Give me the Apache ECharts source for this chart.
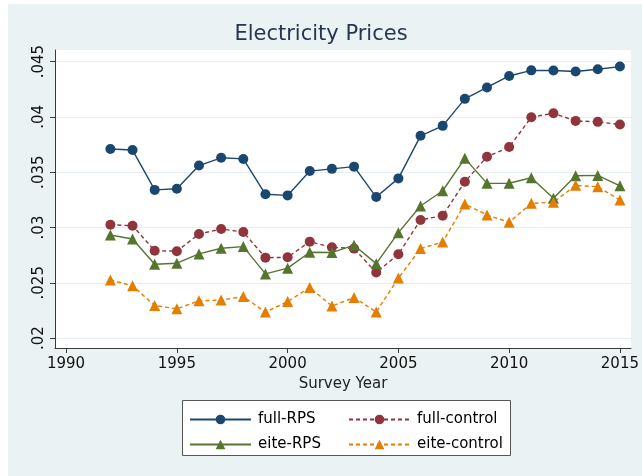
<!DOCTYPE html>
<html>
<head>
<meta charset="utf-8">
<script src="https://cdn.jsdelivr.net/npm/echarts@6/dist/echarts.min.js"></script>
<style>
  html, body { margin: 0; padding: 0; background: #fff; }
  #chart { width: 642px; height: 476px; }
</style>
</head>
<body>
<div id="chart"></div>
<script>
// data
const years = [1992, 1993, 1994, 1995, 1996, 1997, 1998, 1999, 2000, 2001, 2002, 2003,
  2004, 2005, 2006, 2007, 2008, 2009, 2010, 2011, 2012, 2013, 2014, 2015];
const fullRPS = [0.0371, 0.0370, 0.0334, 0.0335, 0.0356, 0.0363, 0.0362, 0.0330, 0.0329, 0.0351, 0.0353, 0.0355,
  0.03275, 0.03444, 0.03829, 0.03919, 0.04163, 0.04266, 0.0437, 0.04421, 0.0442, 0.0441, 0.04431, 0.04455];
const fullControl = [0.03025, 0.03016, 0.0279, 0.02785, 0.02941, 0.02986, 0.02959, 0.02727, 0.0273, 0.02872, 0.02821, 0.02809,
  0.02592, 0.02758, 0.03068, 0.03107, 0.03413, 0.03639, 0.03727, 0.03997, 0.04033, 0.03964, 0.03955, 0.03931];
const eiteRPS = [0.02932, 0.02896, 0.02668, 0.02677, 0.02761, 0.02812, 0.02827, 0.0258, 0.02632, 0.02776, 0.02773, 0.0284,
  0.02673, 0.02953, 0.03194, 0.03332, 0.03625, 0.03399, 0.034, 0.0345, 0.03264, 0.03468, 0.03471, 0.03377];
const eiteControl = [0.02526, 0.02472, 0.02294, 0.02264, 0.02337, 0.02343, 0.02375, 0.02235, 0.0233, 0.02457, 0.02289, 0.02367,
  0.02235, 0.02542, 0.02809, 0.02869, 0.03212, 0.03113, 0.03047, 0.03218, 0.03228, 0.03381, 0.03368, 0.03248];
const xTicks = [1990, 1995, 2000, 2005, 2010, 2015];
const yTicks = [0.02, 0.025, 0.03, 0.035, 0.04, 0.045];

const font = 'DejaVu Sans';
const axisColor = '#3a3a3a';

function pairs(vals) {
  return years.map((y, i) => [y, vals[i]]);
}

function lineSeries(name, vals, color, symbol, dashed) {
  return {
    name: name,
    type: 'line',
    data: pairs(vals),
    symbol: symbol,
    symbolSize: symbol === 'circle' ? 10 : 11,
    itemStyle: { color: color },
    lineStyle: { color: color, width: 1.4, type: dashed ? [4, 3] : 'solid' },
    emphasis: { disabled: true },
    animation: false
  };
}

const chart = echarts.init(document.getElementById('chart'), null, { renderer: 'canvas' });

const option = {
  backgroundColor: '#eaf2f3',
  animation: false,
  title: {
    text: 'Electricity Prices',
    left: 'center',
    top: 19,
    textStyle: { fontFamily: font, fontSize: 21, fontWeight: 'normal', color: '#27364f' }
  },
  graphic: [
    { type: 'rect', shape: { x: 0, y: 0, width: 8, height: 476 }, style: { fill: '#fff' } },
    { type: 'rect', shape: { x: 0, y: 0, width: 642, height: 4 }, style: { fill: '#fff' } },
    { type: 'rect', shape: { x: 182.5, y: 400.5, width: 328, height: 55 }, style: { fill: '#fff', stroke: '#555', lineWidth: 1 } }
  ],
  grid: {
    left: 55, right: 4, top: 50, bottom: 128,
    show: true, backgroundColor: '#fff', borderWidth: 0
  },
  legend: [
    {
      data: ['full-RPS', 'eite-RPS'],
      orient: 'vertical',
      left: 189, top: 412,
      padding: 0,
      itemWidth: 61, itemHeight: 12, itemGap: 10,
      textStyle: { fontFamily: font, fontSize: 15, color: '#000', padding: [0, 0, 0, 2] },
      selectedMode: false
    },
    {
      data: ['full-control', 'eite-control'],
      orient: 'vertical',
      left: 348, top: 412,
      padding: 0,
      itemWidth: 61, itemHeight: 12, itemGap: 10,
      textStyle: { fontFamily: font, fontSize: 15, color: '#000', padding: [0, 0, 0, 2] },
      selectedMode: false
    }
  ],
  xAxis: {
    type: 'value',
    min: 1989.5, max: 2015.5,
    name: 'Survey Year',
    nameLocation: 'middle',
    nameGap: 29,
    nameTextStyle: { fontFamily: font, fontSize: 15, color: '#222' },
    axisLine: { show: true, lineStyle: { color: axisColor, width: 1 } },
    axisTick: { show: true, length: 5, lineStyle: { color: axisColor }, customValues: xTicks },
    axisLabel: { fontFamily: font, fontSize: 15, color: '#111', margin: 9, customValues: xTicks, formatter: v => String(v) },
    splitLine: { show: false }
  },
  yAxis: {
    type: 'value',
    min: 0.0191, max: 0.04605,
    axisLine: { show: true, lineStyle: { color: axisColor, width: 1 } },
    axisTick: { show: true, length: 5, lineStyle: { color: axisColor }, customValues: yTicks },
    axisLabel: {
      fontFamily: font, fontSize: 15, color: '#111', rotate: 90, margin: 8,
      customValues: yTicks,
      formatter: v => String(parseFloat(v.toFixed(4))).replace(/^0/, '')
    },
    splitLine: { show: true, lineStyle: { color: '#e6eef1', width: 1 } }
  },
  series: [
    lineSeries('full-RPS', fullRPS, '#1a476f', 'circle', false),
    lineSeries('full-control', fullControl, '#90353b', 'circle', true),
    lineSeries('eite-RPS', eiteRPS, '#55752f', 'triangle', false),
    lineSeries('eite-control', eiteControl, '#e37e00', 'triangle', true)
  ]
};

chart.setOption(option);
</script>
</body>
</html>
